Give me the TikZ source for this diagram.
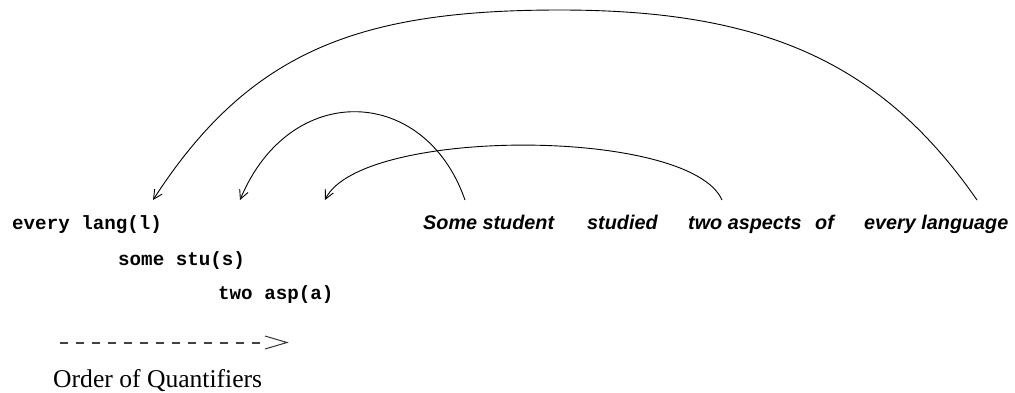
\documentclass[tikz,border=0pt]{standalone}
\usepackage{fontspec}
\setmainfont{Liberation Serif}
\setsansfont{Liberation Sans}
\setmonofont{Liberation Mono}
\usepackage{tikz}
\usetikzlibrary{arrows.meta}

\begin{document}
\begin{tikzpicture}[x=1pt,y=-1pt,
  quant/.style={font=\ttfamily\bfseries\fontsize{19.2}{22}\selectfont,anchor=base west,inner sep=0pt},
  word/.style={font=\sffamily\bfseries\itshape\fontsize{19.8}{22}\selectfont,anchor=base west,inner sep=0pt},
  scope link/.style={line width=0.9pt,-{Straight Barb[length=9pt,width=9pt,line width=0.9pt]}}]
\useasboundingbox (0,0) rectangle (1015,392);
\foreach \x/\y/\t/\n in %
{12/229/every lang(l)/qlang,118/265/some stu(s)/qstu,218/299/two asp(a)/qasp} {
   \node[quant] (\n) at (\x,\y) {\t};
}
\foreach \x/\t/\n in %
{423/Some student/wsome,587/studied/wstudied,688/two aspects/wtwo,815/of/wof,864/every language/wevery} {
   \node[word] (\n) at (\x,229) {\t};
}
\node[anchor=base west,inner sep=0pt,font=\fontsize{25.6}{28}\selectfont] (order) at (53,387) {Order of Quantifiers};
% arcs from the sentence back to the quantifiers
\coordinate (fromevery) at (977,200);
\coordinate (fromsome) at (465,200);
\coordinate (fromtwo) at (722,200);
\coordinate (tolang) at (153,200);
\coordinate (tostu) at (240,200);
\coordinate (toasp) at (325,200);
\coordinate (arctop) at (560,10);
\draw[scope link] (fromevery) .. controls (880,60) and (760,10) .. (arctop)
   .. controls (360,10) and (250,50) .. (tolang);
\draw[scope link] (fromsome) .. controls (425,85) and (290,80) .. (tostu);
\draw[scope link] (fromtwo) .. controls (690,127) and (360,127) .. (toasp);
% order arrow
\coordinate (dashbeg) at (60,343);
\coordinate (dashend) at (262,343);
\draw[line width=1.6pt,black!75,dash pattern=on 8pt off 8pt] (dashbeg) -- (dashend);
\draw[line width=1pt,black!80] (265,336) -- (287,342.5) -- (265,349);
\end{tikzpicture}
\end{document}
